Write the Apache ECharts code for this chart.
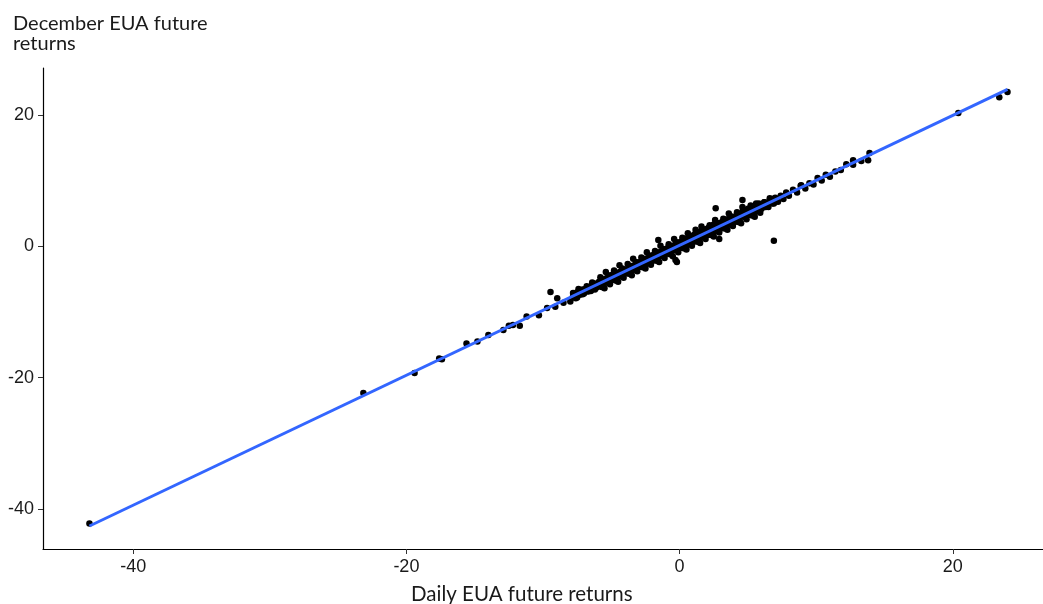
<!DOCTYPE html>
<html><head><meta charset="utf-8">
<script src="https://cdn.jsdelivr.net/npm/echarts@6/dist/echarts.min.js"></script>
<style>html,body{margin:0;padding:0;background:#fff}#c{width:1043px;height:604px}</style>
</head><body><div id="c"></div>
<script>
const tickValues = [-40, -20, 0, 20];
const xTitle = 'Daily EUA future returns';
const yTitle = ['December EUA future', 'returns'];
// [daily return, december return]
const returns = [
[-43.2,-42.2],[-23.15,-22.35],[-19.4,-19.3],[-17.6,-17.1],[-17.4,-17.2],[-15.6,-14.8],[-14.8,-14.5],
[-14.0,-13.5],[-12.9,-12.75],[-12.5,-12.1],[-12.2,-12.0],[-11.7,-12.1],[-11.2,-10.7],[-10.3,-10.5],
[-9.7,-9.4],[-9.45,-6.96],[-9.1,-9.2],[-8.96,-7.9],[-8.5,-8.6],[-8.0,-8.4],
[-7.8,-7.6],[-7.6,-7.9],[-7.5,-7.0],[-7.3,-7.4],[-7.1,-6.6],[-7.0,-7.2],[-6.9,-6.5],[-6.7,-6.9],
[-6.6,-6.2],[-6.5,-6.7],[-6.4,-5.9],[-6.3,-6.4],[-6.2,-6.6],[-6.1,-5.7],[-6.0,-6.1],[-5.9,-5.4],
[-5.8,-6.0],[-5.7,-5.2],[-5.6,-5.8],[-5.5,-5.6],[-5.4,-4.9],[-5.3,-5.5],[-5.2,-4.6],[-5.1,-5.3],
[-5.0,-4.8],[-4.9,-4.3],[-4.8,-5.0],[-4.7,-4.4],[-4.6,-4.9],[-4.5,-4.0],[-4.4,-4.6],[-4.3,-3.8],
[-4.2,-4.4],[-4.1,-3.7],[-4.0,-4.1],[-3.9,-3.5],[-3.8,-4.0],[-3.7,-3.3],[-3.6,-3.9],[-3.5,-3.0],
[-3.4,-3.6],[-3.3,-2.9],[-3.2,-3.4],[-3.1,-2.7],[-3.0,-3.1],[-2.9,-2.4],[-2.8,-3.0],[-2.7,-2.3],
[-2.6,-2.9],[-2.5,-1.9],[-2.4,-2.6],[-2.3,-1.8],[-2.2,-2.4],[-2.1,-1.6],[-2.0,-2.2],[-1.9,-1.3],
[-1.8,-2.0],[-1.7,-1.2],[-1.6,-1.8],[-1.5,-0.9],[-1.4,-1.5],[-1.3,-0.7],[-1.2,-1.4],[-1.1,-0.5],
[-1.0,-1.1],[-0.9,-0.3],[-0.8,-1.0],[-0.7,-0.2],[-0.6,-0.8],[-0.5,0.1],[-0.4,-0.6],[-0.3,0.3],
[-0.2,-0.4],[-0.1,0.5],[0.0,-0.3],[0.1,0.7],[0.2,-0.1],[0.3,0.9],[0.4,0.1],[0.5,1.2],[0.6,0.3],
[0.7,1.3],[0.8,0.5],[0.9,1.6],[1.0,0.7],[1.1,1.8],[1.2,0.9],[1.3,2.0],[1.4,1.1],[1.5,2.2],
[1.6,1.3],[1.7,2.4],[1.8,1.5],[1.9,2.6],[2.0,1.7],[2.1,2.8],[2.2,1.9],[2.3,3.0],[2.4,2.1],
[2.5,3.3],[2.6,2.3],[2.7,3.4],[2.8,2.5],[2.9,3.5],[3.0,2.7],[3.1,3.7],[3.2,2.9],[3.3,4.0],
[3.4,3.1],[3.5,4.1],[3.6,3.3],[3.7,4.3],[3.8,3.5],[3.9,4.5],[4.0,3.7],[4.2,4.8],[4.4,4.0],
[4.6,5.3],[4.8,4.4],[5.0,5.7],[5.2,4.8],[5.4,6.0],[5.6,5.3],[5.8,6.3],[6.0,5.7],[6.2,6.7],
[6.4,6.1],[6.6,7.0],[6.8,6.5],[7.0,7.4],[7.2,6.8],[7.4,7.7],[7.6,7.2],[7.8,8.2],[8.0,7.7],
[8.3,8.6],[8.6,8.2],[8.9,9.3],[9.2,8.8],[9.5,9.6],[9.8,9.4],[10.1,10.4],[10.4,10.0],[10.7,10.9],
[11.0,10.6],[11.4,11.4],[11.8,11.6],[12.2,12.5],[12.7,12.4],[12.7,13.1],[13.3,13.0],[13.8,13.1],
[13.9,14.2],
[-7.8,-7.1],[-7.7,-7.8],[-7.6,-7.2],[-7.5,-7.8],[-7.4,-6.5],[-7.3,-7.2],[-7.2,-6.7],[-7.1,-7.3],
[-7.0,-6.7],[-6.9,-6.9],[-6.8,-6.1],[-6.7,-6.8],[-6.6,-6.2],[-6.5,-6.8],[-6.4,-5.5],[-6.3,-6.2],
[-6.2,-5.7],[-6.1,-6.3],[-6.0,-5.7],[-5.9,-6.1],[-5.8,-4.7],[-5.7,-6.2],[-5.6,-5.1],[-5.5,-6.4],
[-5.4,-3.9],[-5.3,-5.3],[-5.2,-4.4],[-5.1,-5.8],[-5.0,-4.7],[-4.9,-5.1],[-4.8,-3.7],[-4.7,-5.2],
[-4.6,-4.1],[-4.5,-5.4],[-4.4,-2.9],[-4.3,-4.3],[-4.2,-3.4],[-4.1,-4.8],[-4.0,-3.7],[-3.9,-4.1],
[-3.8,-2.7],[-3.7,-4.2],[-3.6,-3.1],[-3.5,-4.4],[-3.4,-1.9],[-3.3,-3.3],[-3.2,-2.4],[-3.1,-3.8],
[-3.0,-2.7],[-2.9,-3.1],[-2.8,-1.7],[-2.7,-3.2],[-2.6,-2.1],[-2.5,-3.4],[-2.4,-0.9],[-2.3,-2.3],
[-2.2,-1.4],[-2.1,-2.8],[-2.0,-1.7],[-1.9,-2.1],[-1.8,-0.7],[-1.7,-2.2],[-1.6,-1.1],[-1.5,-2.4],
[-1.4,0.1],[-1.3,-1.3],[-1.2,-0.4],[-1.1,-1.8],[-1.0,-0.7],[-0.9,-1.1],[-0.8,0.3],[-0.7,-1.2],
[-0.6,-0.1],[-0.5,-1.5],[-0.4,1.1],[-0.3,-0.4],[-0.2,0.6],[-0.1,-0.9],[0.0,0.3],[0.1,-0.2],
[0.2,1.3],[0.3,-0.3],[0.4,0.9],[0.5,-0.5],[0.6,2.0],[0.7,0.6],[0.8,1.5],[0.9,0.1],[1.0,1.2],
[1.1,0.8],[1.2,2.2],[1.3,0.7],[1.4,1.8],[1.5,0.5],[1.6,3.0],[1.7,1.6],[1.8,2.5],[1.9,1.1],
[2.0,2.2],[2.1,1.8],[2.2,3.2],[2.3,1.7],[2.4,2.8],[2.5,1.5],[2.6,4.0],[2.7,2.6],[2.8,3.5],
[2.9,2.1],[3.0,3.2],[3.1,2.8],[3.2,4.2],[3.3,2.7],[3.4,3.8],[3.5,2.5],[3.6,5.0],[3.7,3.6],
[3.8,4.5],[3.9,3.1],[4.0,4.2],[4.1,3.8],[4.2,5.2],[4.3,3.7],[4.4,4.8],[4.5,3.5],[4.6,6.0],
[4.7,4.6],[4.8,5.5],[4.9,4.1],[5.0,5.2],[5.1,4.8],[5.2,6.2],[5.3,4.7],[5.4,5.8],[5.5,4.5],
[5.6,6.5],[5.7,5.6],[5.8,6.5],[5.9,5.1],[6.0,6.2],[6.1,6.0],[6.2,6.7],[6.3,6.0],[6.4,6.6],
[6.5,6.0],[6.6,7.3],[6.7,6.7],[6.8,7.2],[6.9,6.5],[7.0,7.1],
[-1.56,0.96],[-0.3,-2.1],[-0.2,-2.4],[2.64,5.8],[4.6,7.05],[6.9,0.85],[2.9,1.1],[1.17,2.5],
[8.86,9.2],[20.4,20.3],[23.4,22.7],[24.0,23.5]
];
const fitX = [-43.2, 24.0];
const fitY = [-42.6, 23.9];

const chart = echarts.init(document.getElementById('c'), null, {renderer: 'canvas'});
const axisCommon = {
  axisLine: {show: true, onZero: false, lineStyle: {color: '#000', width: 1.2}},
  axisTick: {show: true, length: 5, customValues: tickValues, lineStyle: {color: '#333', width: 1}},
  axisLabel: {customValues: tickValues, color: '#1a1a1a', fontFamily: 'Liberation Sans', fontSize: 18},
  splitLine: {show: false}
};
chart.setOption({
  animation: false,
  grid: {left: 43, right: 0, top: 68, bottom: 55, containLabel: false},
  xAxis: Object.assign({type: 'value', min: -46.6, max: 26.6}, axisCommon,
    {axisLabel: Object.assign({}, axisCommon.axisLabel, {margin: 9})}),
  yAxis: Object.assign({type: 'value', min: -46.1, max: 27.15}, axisCommon,
    {axisLabel: Object.assign({}, axisCommon.axisLabel, {margin: 9})}),
  graphic: [
    {type: 'text', left: 13, top: 14, style: {text: yTitle.join('\n'), fontFamily: 'Lato', fontSize: 20, lineHeight: 20, fill: '#1a1a1a'}},
    {type: 'text', left: 411, top: 584, style: {text: xTitle, fontFamily: 'Lato', fontSize: 20.5, fill: '#1a1a1a'}}
  ],
  series: [
    {type: 'scatter', data: returns, symbolSize: 6.5, itemStyle: {color: '#000', opacity: 1}, z: 2},
    {type: 'line', data: fitX.map((x, i) => [x, fitY[i]]), symbol: 'none', lineStyle: {color: '#3366FF', width: 3}, z: 3}
  ]
});
</script></body></html>
